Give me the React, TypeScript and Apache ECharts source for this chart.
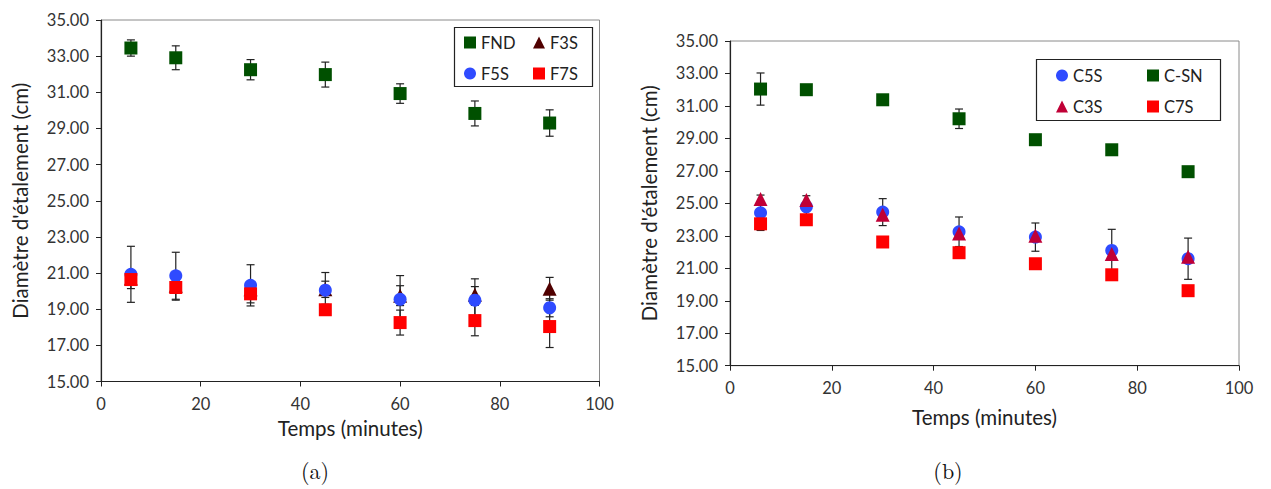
import React, { useEffect, useRef } from "react";
import * as echarts from "echarts";

const times = [6, 15, 30, 45, 60, 75, 90];

// Chart (a)
const fnd = [33.45, 32.91, 32.25, 31.98, 30.93, 29.83, 29.3];
const fndErr = [0.45, 0.66, 0.56, 0.69, 0.54, 0.69, 0.73];
const f3s = [20.7, 20.3, 20.1, 20.1, 19.75, 19.8, 20.13];
const f3sErr = [0.3, 0.3, 0.3, 0.45, 0.55, 0.45, 0.63];
const f5s = [20.93, 20.85, 20.32, 20.05, 19.55, 19.5, 19.08];
const f5sErr = [1.55, 1.3, 1.14, 0.98, 1.31, 1.18, 0.5];
const f7s = [20.64, 20.2, 19.85, 18.97, 18.26, 18.37, 18.04];
const f7sErr = [0.5, 0.7, 0.5, 0.3, 0.69, 0.84, 1.16];

// Chart (b)
const c5s = [24.42, 24.79, 24.46, 23.25, 22.92, 22.1, 21.59];
const c5sErr = [1.09, 0.68, 0.83, 0.91, 0.87, 1.3, 1.27];
const csn = [32.04, 32.0, 31.38, 30.21, 28.92, 28.3, 26.95];
const csnErr = [0.99, 0.1, 0, 0.6, 0, 0, 0];
const c3s = [25.27, 25.2, 24.3, 23.15, 23.0, 21.88, 21.71];
const c3sErr = [0, 0, 0, 0, 0, 0, 0];
const c7s = [23.74, 23.99, 22.62, 21.96, 21.28, 20.6, 19.62];
const c7sErr = [0, 0, 0, 0, 0, 0, 0];

const yTicksMin = 15;
const yTicksMax = 35;
const xMin = 0;
const xMax = 100;

const FONT = "Lato, 'Open Sans', sans-serif";
const GREEN = "#005000";
const DARKRED = "#500000";
const BLUE = "#2F4BFF";
const RED = "#FF0000";
const CRIMSON = "#C00036";

function pts(vals: number[]) {
  return times.map((t, i) => [t, vals[i]]);
}
function errPts(vals: number[], errs: number[]) {
  return times.map((t, i) => [t, vals[i], errs[i]]);
}

const errRender = (params: any, api: any) => {
  const x = api.value(0);
  const y = api.value(1);
  const e = api.value(2);
  if (!e) return null;
  const top = api.coord([x, y + e]);
  const bot = api.coord([x, y - e]);
  const c = 4;
  const st = { stroke: "#222", lineWidth: 1.2 };
  return {
    type: "group",
    children: [
      { type: "line", shape: { x1: top[0], y1: top[1], x2: bot[0], y2: bot[1] }, style: st },
      { type: "line", shape: { x1: top[0] - c, y1: top[1], x2: top[0] + c, y2: top[1] }, style: st },
      { type: "line", shape: { x1: bot[0] - c, y1: bot[1], x2: bot[0] + c, y2: bot[1] }, style: st },
    ],
  };
};

function errSeries(name: string, vals: number[], errs: number[], idx: number) {
  return {
    type: "custom",
    name,
    xAxisIndex: idx,
    yAxisIndex: idx,
    renderItem: errRender,
    data: errPts(vals, errs),
    z: 1,
    silent: true,
  };
}

function scatter(name: string, vals: number[], color: string, symbol: string, idx: number, z: number) {
  return {
    type: "scatter",
    name,
    xAxisIndex: idx,
    yAxisIndex: idx,
    symbol,
    symbolSize: symbol === "triangle" ? 14 : 13,
    itemStyle: { color, opacity: 1 },
    data: pts(vals),
    z,
  };
}

function xAxis(idx: number) {
  return {
    type: "value",
    gridIndex: idx,
    min: xMin,
    max: xMax,
    interval: 20,
    name: "Temps (minutes)",
    nameLocation: "middle",
    nameGap: idx === 0 ? 35 : 41,
    nameTextStyle: { fontFamily: FONT, fontSize: 20.5, color: "#222" },
    axisLine: { show: true, lineStyle: { color: "#222", width: 1.2 } },
    axisTick: { show: true, inside: false, length: 5, lineStyle: { color: "#222" } },
    axisLabel: { fontFamily: FONT, fontSize: 16.5, color: "#333", margin: 14 },
    splitLine: { show: false },
  };
}

function yAxis(idx: number) {
  return {
    type: "value",
    gridIndex: idx,
    min: yTicksMin,
    max: yTicksMax,
    interval: 2,
    name: "Diamètre d'étalement (cm)",
    nameLocation: "middle",
    nameGap: 71,
    nameTextStyle: { fontFamily: FONT, fontSize: 20.5, color: "#222" },
    axisLine: { show: true, lineStyle: { color: "#222", width: 1.2 } },
    axisTick: { show: true, inside: false, length: 5, lineStyle: { color: "#222" } },
    axisLabel: {
      fontFamily: FONT,
      fontSize: 16.5,
      color: "#333",
      margin: 12,
      formatter: (v: number) => v.toFixed(2),
    },
    splitLine: { show: false },
  };
}

function legend(left: number, top: number, items: { name: string; icon: string }[]) {
  return {
    show: true,
    orient: "vertical",
    left,
    top,
    padding: 0,
    itemGap: 14,
    itemWidth: 12,
    itemHeight: 12,
    selectedMode: false,
    textStyle: { fontFamily: FONT, fontSize: 16.5, color: "#222" },
    data: items,
  };
}

export default function App() {
  const ref = useRef<HTMLDivElement>(null);
  useEffect(() => {
    if (!ref.current) return;
    const chart = echarts.init(ref.current, undefined, { renderer: "svg" });
    const option: any = {
      animation: false,
      backgroundColor: "#fff",
      grid: [
        { left: 101, width: 498.5, top: 20, height: 361.5, show: true, borderColor: "#8a8a8a", borderWidth: 1 },
        { left: 730, width: 509, top: 41, height: 324.7, show: true, borderColor: "#8a8a8a", borderWidth: 1 },
      ],
      xAxis: [xAxis(0), xAxis(1)],
      yAxis: [yAxis(0), yAxis(1)],
      legend: [
        legend(464, 34, [
          { name: "FND", icon: "rect" },
          { name: "F5S", icon: "circle" },
        ]),
        legend(533, 34, [
          { name: "F3S", icon: "triangle" },
          { name: "F7S", icon: "rect" },
        ]),
        legend(1056, 67, [
          { name: "C5S", icon: "circle" },
          { name: "C3S", icon: "triangle" },
        ]),
        legend(1147, 67, [
          { name: "C-SN", icon: "rect" },
          { name: "C7S", icon: "rect" },
        ]),
      ],
      graphic: [
        { type: "rect", shape: { x: 454.5, y: 27.5, width: 138, height: 59 }, style: { fill: "none", stroke: "#222", lineWidth: 1.2 }, z: 100 },
        { type: "rect", shape: { x: 1036.5, y: 59.5, width: 184, height: 61 }, style: { fill: "none", stroke: "#222", lineWidth: 1.2 }, z: 100 },
        { type: "text", x: 315, y: 469, style: { text: "(a)", fontFamily: "'Latin Modern Roman', 'DejaVu Serif', serif", fontSize: 22, fill: "#111", textAlign: "center", textVerticalAlign: "middle" } },
        { type: "text", x: 948, y: 469, style: { text: "(b)", fontFamily: "'Latin Modern Roman', 'DejaVu Serif', serif", fontSize: 22, fill: "#111", textAlign: "center", textVerticalAlign: "middle" } },
      ],
      series: [
        errSeries("eFND", fnd, fndErr, 0),
        errSeries("eF3S", f3s, f3sErr, 0),
        errSeries("eF5S", f5s, f5sErr, 0),
        errSeries("eF7S", f7s, f7sErr, 0),
        scatter("FND", fnd, GREEN, "rect", 0, 2),
        scatter("F3S", f3s, DARKRED, "triangle", 0, 2),
        scatter("F5S", f5s, BLUE, "circle", 0, 3),
        scatter("F7S", f7s, RED, "rect", 0, 4),
        errSeries("eC5S", c5s, c5sErr, 1),
        errSeries("eCSN", csn, csnErr, 1),
        errSeries("eC3S", c3s, c3sErr, 1),
        errSeries("eC7S", c7s, c7sErr, 1),
        scatter("C5S", c5s, BLUE, "circle", 1, 2),
        scatter("C-SN", csn, GREEN, "rect", 1, 2),
        scatter("C7S", c7s, RED, "rect", 1, 3),
        scatter("C3S", c3s, CRIMSON, "triangle", 1, 4),
      ],
    };
    chart.setOption(option);
    return () => chart.dispose();
  }, []);
  return (
    <div
      ref={ref}
      style={{ position: "fixed", left: 0, top: 0, width: 1271, height: 489, background: "#fff" }}
    />
  );
}
